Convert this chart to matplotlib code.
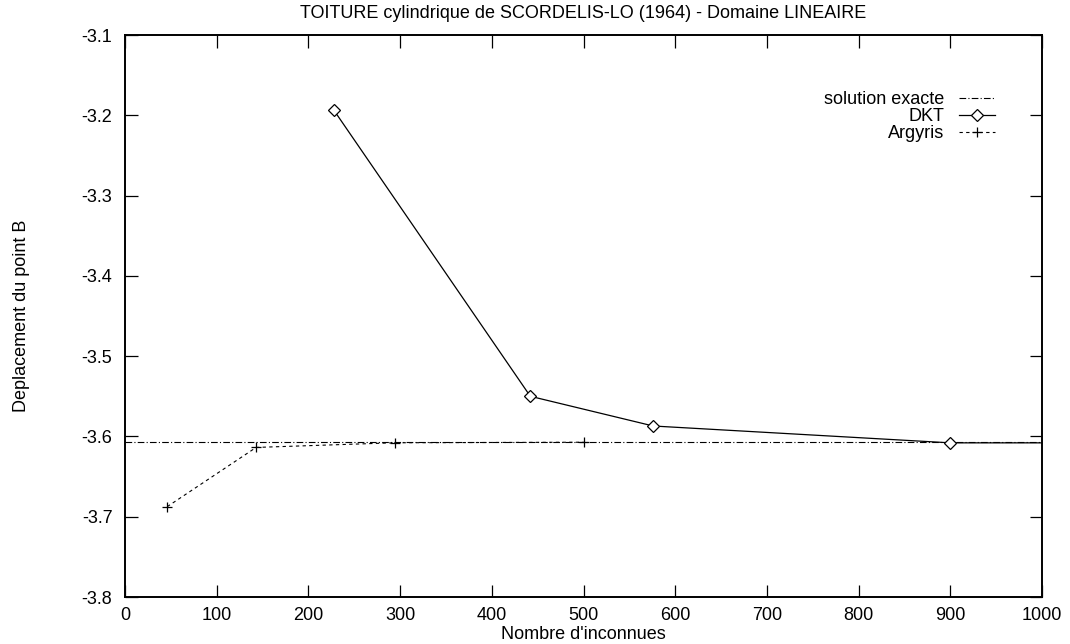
import matplotlib
matplotlib.use("Agg")
import matplotlib.pyplot as plt

plt.rcParams['font.family'] = ['Liberation Sans', 'DejaVu Sans']

title = "TOITURE cylindrique de SCORDELIS-LO (1964) - Domaine LINEAIRE"
xlabel = "Nombre d'inconnues"
ylabel = "Deplacement du point B"

exact_x = [0, 1000]
exact_y = [-3.6075, -3.6075]

dkt_x = [228, 442, 576, 900, 1200]
dkt_y = [-3.194, -3.550, -3.587, -3.608, -3.608]

arg_x = [46, 143, 294, 500]
arg_y = [-3.6875, -3.6137, -3.6079, -3.6072]

xticks = [0, 100, 200, 300, 400, 500, 600, 700, 800, 900, 1000]
yticks = [-3.8, -3.7, -3.6, -3.5, -3.4, -3.3, -3.2, -3.1]

FS = 13

fig = plt.figure(figsize=(10.7, 6.44), dpi=100)
ax = fig.add_axes([125/1070, 1-597/644, (1042-125)/1070, (597-35)/644])

ax.plot(exact_x, exact_y, color='black', lw=0.8, ls=(0, (6, 2, 1, 2)), label='solution exacte')
ax.plot(dkt_x, dkt_y, color='black', lw=0.9, marker='D', markersize=6,
        markerfacecolor='white', markeredgewidth=0.9, label='DKT')
ax.plot(arg_x, arg_y, color='black', lw=0.8, ls=(0, (3, 3)), marker='+', markersize=7,
        markeredgewidth=0.9, label='Argyris')

ax.set_xlim(0, 1000)
ax.set_ylim(-3.8, -3.1)
ax.set_xticks(xticks)
ax.set_yticks(yticks)
ax.set_xticklabels([str(t) for t in xticks])
ax.set_yticklabels([f"{t:.1f}" for t in yticks])
ax.tick_params(direction='in', length=9, width=0.9, top=True, right=True, labelsize=FS)
ax.tick_params(axis='y', pad=9)
ax.tick_params(axis='x', pad=7)
for s in ax.spines.values():
    s.set_linewidth(1.4)

ax.set_title(title, fontsize=FS, pad=12)
ax.set_xlabel(xlabel, fontsize=FS)
ax.set_ylabel(ylabel, fontsize=FS)
ax.xaxis.set_label_coords(0.5, -0.052)
ax.yaxis.set_label_coords(-0.104, 0.5)

ax.legend(loc='upper right', frameon=False, markerfirst=False, fontsize=FS,
          handlelength=2.0, handletextpad=0.8, labelspacing=0.0,
          borderpad=0, bbox_to_anchor=((1004-125)/917, (597-82)/562))

fig.savefig("out.png", dpi=100)
